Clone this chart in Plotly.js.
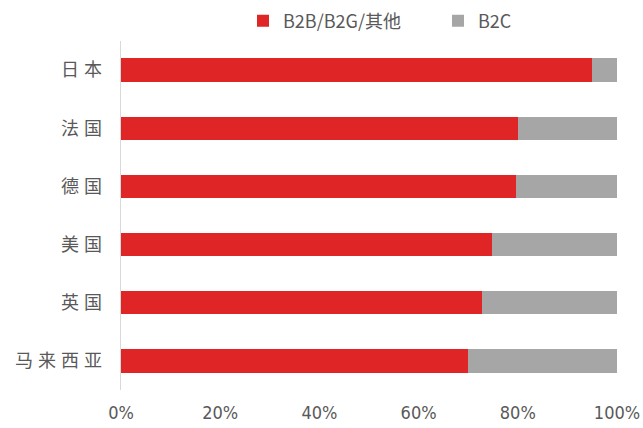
<!DOCTYPE html>
<html>
<head>
<meta charset="utf-8">
<script src="https://cdn.plot.ly/plotly-3.0.1.min.js"></script>
<style>html,body{margin:0;padding:0;background:#fff;}#chart{width:643px;height:428px;}
#chart .ytick text{letter-spacing:5px;}</style>
</head>
<body>
<div id="chart"></div>
<script>
const countries = ['日本', '法国', '德国', '美国', '英国', '马来西亚'];
const b2bShare = [0.95, 0.80, 0.796, 0.748, 0.727, 0.70];
const b2cShare = [0.05, 0.20, 0.204, 0.252, 0.273, 0.30];
const seriesNames = ['B2B/B2G/其他', 'B2C'];
const xTicks = [0, 0.2, 0.4, 0.6, 0.8, 1.0];
const xTickText = ['0%', '20%', '40%', '60%', '80%', '100%'];

const traces = [
  {type: 'bar', orientation: 'h', name: seriesNames[0], y: countries, x: b2bShare,
   marker: {color: '#e02526', line: {width: 0}}, hoverinfo: 'x+y'},
  {type: 'bar', orientation: 'h', name: seriesNames[1], y: countries, x: b2cShare,
   marker: {color: '#a6a6a6', line: {width: 0}}, hoverinfo: 'x+y'}
];

const layout = {
  width: 643, height: 428,
  margin: {l: 121, r: 26, t: 41, b: 38, autoexpand: false},
  paper_bgcolor: '#fff', plot_bgcolor: '#fff',
  barmode: 'stack', bargap: 0.6,
  showlegend: true,
  legend: {orientation: 'h', x: 243 / 643, xref: 'container', xanchor: 'left', y: 0.951, yref: 'container', yanchor: 'middle',
           font: {family: 'Noto Sans CJK SC, DejaVu Sans Condensed, sans-serif', size: 18, color: '#595959'},
           itemwidth: 30, entrywidth: 150, traceorder: 'normal'},
  xaxis: {range: [0, 1], tickvals: xTicks, ticktext: xTickText, showgrid: false, zeroline: false,
          showline: false, ticks: '', ticklabelstandoff: 10, fixedrange: true,
          tickfont: {family: 'DejaVu Sans Condensed, Liberation Sans Narrow, sans-serif', size: 18, color: '#595959'}},
  yaxis: {autorange: 'reversed', showgrid: false, zeroline: false, showline: true, linecolor: '#d9d9d9',
          linewidth: 1.5, ticks: '', ticklabelstandoff: 9, fixedrange: true,
          tickfont: {family: 'Noto Sans CJK SC, sans-serif', size: 18, color: '#595959'}}
};

Plotly.newPlot('chart', traces, layout, {displayModeBar: false, staticPlot: true});
</script>
</body>
</html>
